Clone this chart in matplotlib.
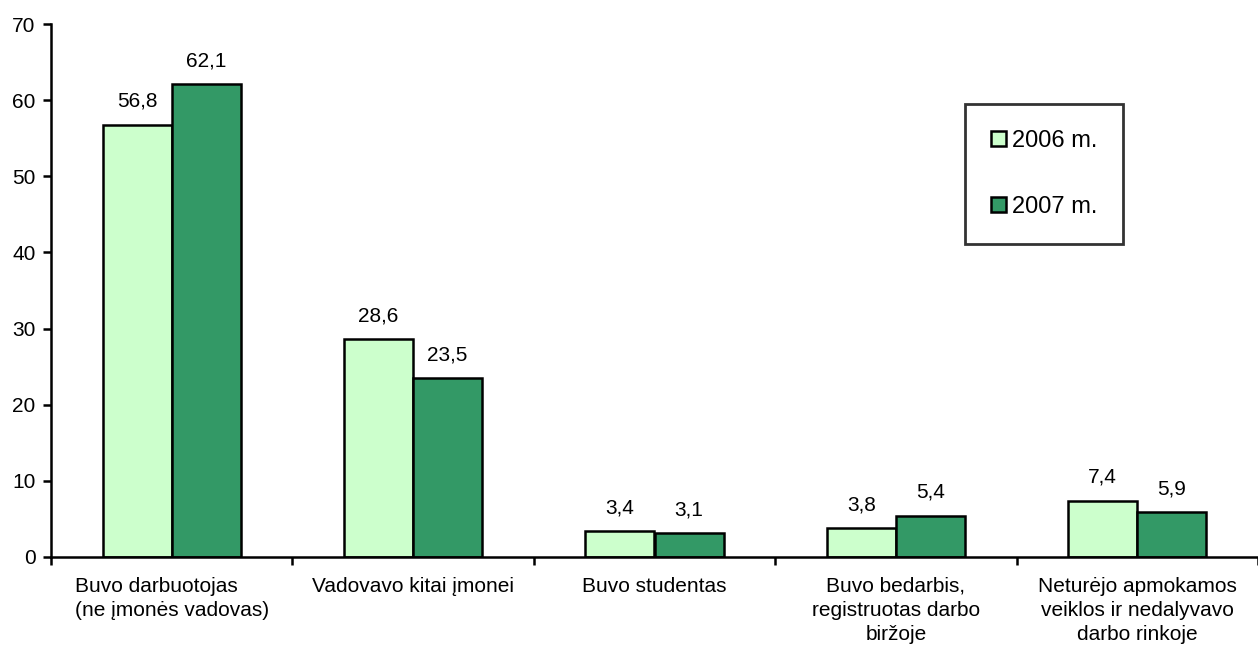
import matplotlib
matplotlib.use("Agg")
import matplotlib.pyplot as plt
from matplotlib.patches import Patch
import numpy as np

plt.rcParams['font.family'] = ['Liberation Sans', 'DejaVu Sans']

categories = ["Buvo darbuotojas\n(ne įmonės vadovas)",
              "Vadovavo kitai įmonei",
              "Buvo studentas",
              "Buvo bedarbis,\nregistruotas darbo\nbiržoje",
              "Neturėjo apmokamos\nveiklos ir nedalyvavo\ndarbo rinkoje"]
series_names = ["2006 m.", "2007 m."]
values_2006 = [56.8, 28.6, 3.4, 3.8, 7.4]
values_2007 = [62.1, 23.5, 3.1, 5.4, 5.9]
yticks = [0, 10, 20, 30, 40, 50, 60, 70]

c_light = "#CCFFCC"
c_dark = "#339966"
FS = 15

fig = plt.figure(figsize=(12.58, 6.51), dpi=100)
ax = fig.add_axes([51/1258, 1-557/651, 1-51/1258, (557-24)/651])

x = np.arange(len(categories))
w = 0.286
b1 = ax.bar(x - w/2, values_2006, w, color=c_light, edgecolor='black', linewidth=1.8)
b2 = ax.bar(x + w/2, values_2007, w, color=c_dark, edgecolor='black', linewidth=1.8)

def fmt(v):
    return f"{v:.1f}".replace('.', ',')

for bars, vals in ((b1, values_2006), (b2, values_2007)):
    for rect, v in zip(bars, vals):
        ax.annotate(fmt(v), (rect.get_x() + rect.get_width()/2, v),
                    xytext=(0, 10), textcoords='offset points',
                    ha='center', va='bottom', fontsize=FS)

ax.set_xlim(-0.5, len(categories) - 0.5)
ax.set_ylim(0, 70)
ax.set_yticks(yticks)
ax.set_yticklabels([str(t) for t in yticks], fontsize=FS)
ax.tick_params(axis='y', direction='out', length=6, width=1.8, pad=5)

ax.set_xticks(np.arange(len(categories) + 1) - 0.5)
ax.set_xticklabels([])
ax.tick_params(axis='x', direction='out', length=6, width=1.8)
for i, (xi, lab) in enumerate(zip(x, categories)):
    ax.text(xi, -2.6, lab, ha='center', va='top', fontsize=FS, linespacing=1.35,
            multialignment='left' if i == 0 else 'center')

for s in ('top', 'right'):
    ax.spines[s].set_visible(False)
for s in ('left', 'bottom'):
    ax.spines[s].set_linewidth(1.8)

handles = [Patch(facecolor=c_light, edgecolor='black', linewidth=1.8),
           Patch(facecolor=c_dark, edgecolor='black', linewidth=1.8)]
leg = fig.legend(handles, series_names, loc='upper left',
                 bbox_to_anchor=(965/1258, 1-104/651), fontsize=17,
                 frameon=True, fancybox=False, edgecolor='black',
                 handlelength=0.62, handleheight=0.62, handletextpad=0.25,
                 labelspacing=1.85, borderpad=1.1, borderaxespad=0)
leg.get_frame().set_linewidth(2)

fig.savefig("out.png", dpi=100)
